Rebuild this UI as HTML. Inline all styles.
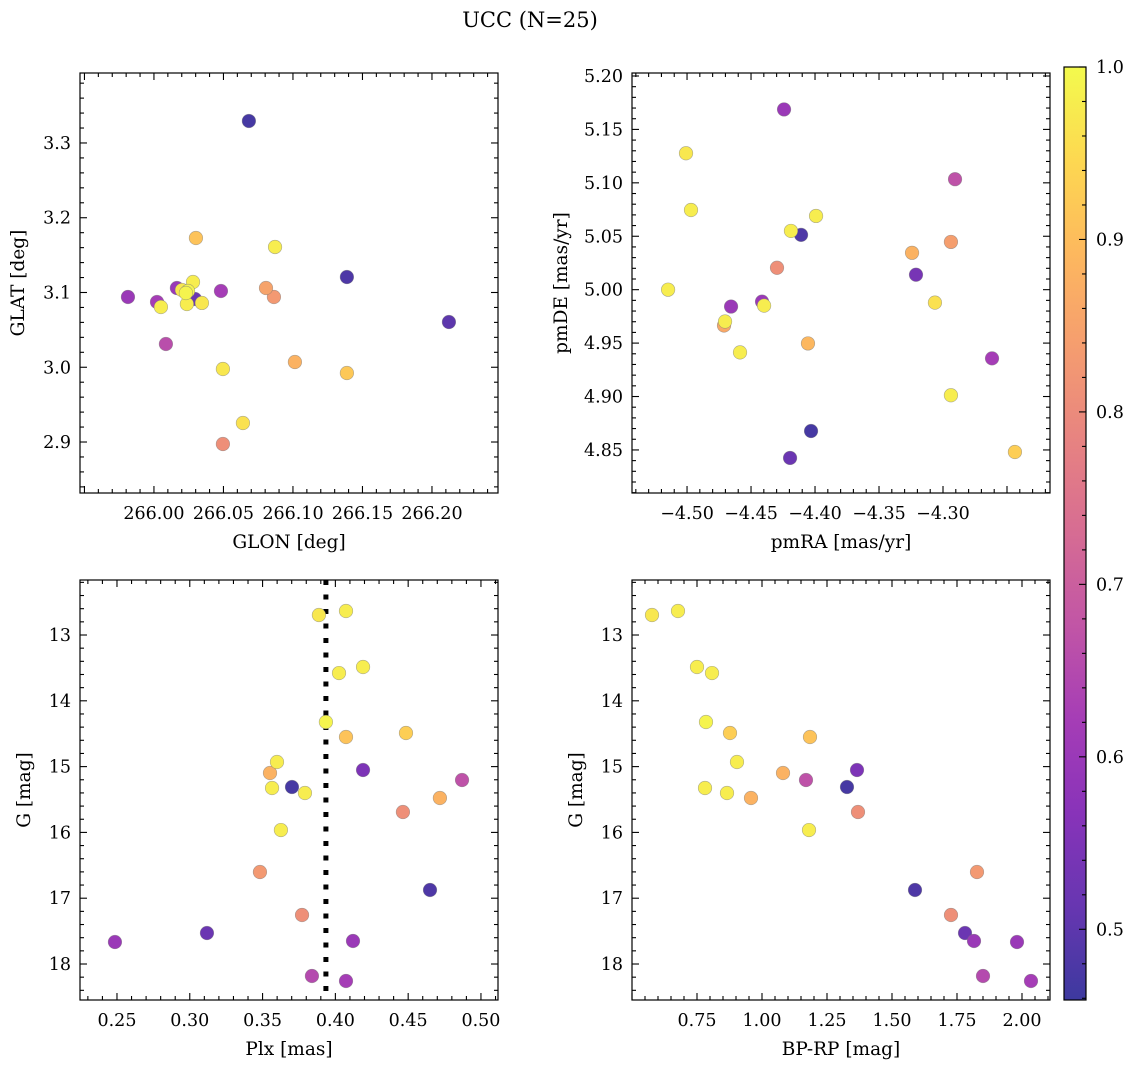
<!DOCTYPE html>
<html><head><meta charset="utf-8"><style>
html,body{margin:0;padding:0;background:#fff;}
svg{display:block;font-family:"DejaVu Serif","Liberation Serif",serif;}
</style></head><body>
<svg id="fig" width="1136" height="1067" viewBox="0 0 1136 1067" xmlns="http://www.w3.org/2000/svg">
<text x="530" y="27" font-size="21" text-anchor="middle">UCC (N=25)</text>
</svg>
<script>
// ---- data ----
const tlGlon=[266.0683,265.9813,266.0022,266.0050,266.0086,266.0165,266.0201,266.0245,266.0281,266.0295,266.0237,266.0345,266.0302,266.0482,266.0496,266.0496,266.0640,266.0871,266.0806,266.0863,266.1014,266.1388,266.1388,266.2122,266.0230];
const tlGlat=[3.3294,3.0940,3.0873,3.0806,3.0311,3.1060,3.1033,3.1020,3.1140,3.0913,3.0846,3.0860,3.1729,3.1020,2.9977,2.8973,2.9254,3.1609,3.1060,3.0940,3.0070,3.1207,2.9923,3.0605,3.0993];
const tlProb=[0.47,0.60,0.62,0.98,0.66,0.60,0.97,0.99,0.98,0.52,0.98,0.97,0.91,0.62,0.97,0.81,0.96,0.98,0.85,0.83,0.88,0.48,0.92,0.50,0.99];
const trPmra=[-4.4242,-4.5008,-4.4969,-4.5148,-4.4656,-4.4703,-4.4711,-4.4586,-4.4414,-4.4398,-4.4297,-4.4188,-4.4109,-4.3992,-4.4055,-4.4031,-4.4195,-4.3242,-4.3211,-4.3063,-4.2938,-4.2906,-4.2938,-4.2617,-4.2438];
const trPmde=[5.1687,5.1277,5.0746,5.0000,4.9842,4.9702,4.9665,4.9413,4.9888,4.9851,5.0205,5.0550,5.0513,5.0690,4.9497,4.8677,4.8425,5.0345,5.0140,4.9879,5.0447,5.1034,4.9012,4.9357,4.8481];
const trProb=[0.60,0.97,0.98,0.98,0.60,0.98,0.86,0.98,0.60,0.98,0.81,0.98,0.48,0.98,0.89,0.47,0.52,0.88,0.54,0.96,0.84,0.67,0.98,0.62,0.93];
const starG=[12.696,12.635,13.486,13.578,14.322,14.489,14.550,14.930,15.097,15.052,15.204,15.325,15.310,15.401,15.477,15.690,15.964,16.602,16.875,17.255,17.529,17.666,17.650,18.182,18.258];
const starPlx=[0.3887,0.4073,0.4190,0.4025,0.3935,0.4485,0.4073,0.3599,0.3551,0.4190,0.4870,0.3565,0.3702,0.3791,0.4718,0.4464,0.3626,0.3482,0.4650,0.3771,0.3118,0.2486,0.4121,0.3839,0.4073];
const starBprp=[0.5769,0.6769,0.7500,0.8077,0.7846,0.8769,1.1846,0.9038,1.0808,1.3654,1.1692,0.7808,1.3269,0.8654,0.9577,1.3692,1.1808,1.8269,1.5885,1.7269,1.7808,1.9808,1.8154,1.8500,2.0346];
const starProb=[0.97,0.98,0.98,0.98,0.99,0.93,0.91,0.98,0.88,0.55,0.67,0.98,0.47,0.98,0.88,0.81,0.98,0.83,0.48,0.81,0.52,0.60,0.60,0.65,0.62];
const plxMedian=0.3935;
const tlXTicks=[266.00,266.05,266.10,266.15,266.20];
const tlYTicks=[2.9,3.0,3.1,3.2,3.3];
const trXTicks=[-4.50,-4.45,-4.40,-4.35,-4.30];
const trYTicks=[4.85,4.90,4.95,5.00,5.05,5.10,5.15,5.20];
const blXTicks=[0.25,0.30,0.35,0.40,0.45,0.50];
const gTicks=[13,14,15,16,17,18];
const brXTicks=[0.75,1.00,1.25,1.50,1.75,2.00];
const cbTicks=[0.5,0.6,0.7,0.8,0.9,1.0];
const vmin=0.459, vmax=1.0;

const NS="http://www.w3.org/2000/svg";
const svg=document.getElementById('fig');
function mk(tag,attrs,parent){const e=document.createElementNS(NS,tag);for(const k in attrs)e.setAttribute(k,attrs[k]);(parent||svg).appendChild(e);return e;}
const stops=['#0d0887','#41049d','#6a00a8','#8f0da4','#b12a90','#cc4778','#e16462','#f2844b','#fca636','#fcce25','#f0f921'];
function hex(h){return [parseInt(h.substr(1,2),16),parseInt(h.substr(3,2),16),parseInt(h.substr(5,2),16)];}
function plasma(t){t=Math.max(0,Math.min(1,t));const f=t*10;const i=Math.min(9,Math.floor(f));const u=f-i;const a=hex(stops[i]),b=hex(stops[i+1]);
 const c=a.map((v,k)=>Math.round((v+(b[k]-v)*u)*0.8+255*0.2));return `rgb(${c[0]},${c[1]},${c[2]})`;}

const TFS=17.5, LFS=18.5;
function fmt(v,d){let s=v.toFixed(d);return s.replace('-','\u2212');}
function panel(o){
  const g=mk('g',{});
  
  
  const sx=v=>o.x0+(v-o.xmin)/(o.xmax-o.xmin)*(o.x1-o.x0);
  const sy=o.yinv?(v=>o.y0+(v-o.ymin)/(o.ymax-o.ymin)*(o.y1-o.y0)):(v=>o.y1-(v-o.ymin)/(o.ymax-o.ymin)*(o.y1-o.y0));
  if(o.vline!==undefined){const l=mk('line',{x1:sx(o.vline),x2:sx(o.vline),y1:o.y0,y2:o.y1,stroke:'#000','stroke-width':5,'stroke-dasharray':'5 9.5'},g);
    
    }
  const order=o.p.map((p,i)=>i).sort((a,b)=>o.p[a]-o.p[b]);
  order.forEach(i=>{const c=mk('circle',{cx:sx(o.xs[i]),cy:sy(o.ys[i]),r:6.8,fill:plasma((o.p[i]-vmin)/(vmax-vmin)),stroke:'rgba(120,120,120,0.6)','stroke-width':0.6},g);
    
    });
  const fr=mk('rect',{x:o.x0,y:o.y0,width:o.x1-o.x0,height:o.y1-o.y0,fill:'none',stroke:'#000','stroke-width':1.2},g);
  
  
  const xt=o.xt, yt=o.yt;
  const xstep=xt[1]-xt[0], ystep=yt[1]-yt[0];
  for(let v=xt[0]-2*xstep;v<=xt[xt.length-1]+2*xstep+1e-9;v+=xstep/5){const X=sx(v);if(X<o.x0-0.1||X>o.x1+0.1)continue;
    const major=Math.abs(Math.round((v-xt[0])/xstep)*xstep-(v-xt[0]))<1e-6;const L=major?7:4;
    mk('line',{x1:X,x2:X,y1:o.y1,y2:o.y1-L,stroke:'#000','stroke-width':1.1},g);mk('line',{x1:X,x2:X,y1:o.y0,y2:o.y0+L,stroke:'#000','stroke-width':1.1},g);}
  for(let v=yt[0]-2*ystep;v<=yt[yt.length-1]+2*ystep+1e-9;v+=ystep/5){const Y=sy(v);if(Y<o.y0-0.1||Y>o.y1+0.1)continue;
    const major=Math.abs(Math.round((v-yt[0])/ystep)*ystep-(v-yt[0]))<1e-6;const L=major?7:4;
    mk('line',{x1:o.x0,x2:o.x0+L,y1:Y,y2:Y,stroke:'#000','stroke-width':1.1},g);mk('line',{x1:o.x1,x2:o.x1-L,y1:Y,y2:Y,stroke:'#000','stroke-width':1.1},g);}
  xt.forEach(v=>{const t=mk('text',{x:sx(v),y:o.y1+26,'font-size':TFS,'text-anchor':'middle'},g);t.textContent=fmt(v,o.xd);
    
    });
  yt.forEach(v=>{const t=mk('text',{x:o.x0-9,y:sy(v)+6,'font-size':TFS,'text-anchor':'end'},g);t.textContent=fmt(v,o.yd);
    
    });
  const xl=mk('text',{x:(o.x0+o.x1)/2,y:o.y1+55,'font-size':LFS,'text-anchor':'middle'},g);xl.textContent=o.xlab;
  
  
  const yl=mk('text',{x:0,y:0,'font-size':LFS,'text-anchor':'middle',transform:`translate(${o.ylx},${(o.y0+o.y1)/2}) rotate(-90)`},g);yl.textContent=o.ylab;
  
  
}
panel({name:'glon-glat-panel',x0:80,x1:498,y0:73,y1:493,xmin:265.9468,xmax:266.2475,ymin:2.8318,ymax:3.3936,xs:tlGlon,ys:tlGlat,p:tlProb,xt:tlXTicks,yt:tlYTicks,xd:2,yd:1,xlab:'GLON [deg]',ylab:'GLAT [deg]',ylx:24});
panel({name:'pm-panel',x0:632,x1:1050,y0:73,y1:493,xmin:-4.543,xmax:-4.2164,ymin:4.8097,ymax:5.2028,xs:trPmra,ys:trPmde,p:trProb,xt:trXTicks,yt:trYTicks,xd:2,yd:2,xlab:'pmRA [mas/yr]',ylab:'pmDE [mas/yr]',ylx:567});
panel({name:'plx-g-panel',x0:80,x1:498,y0:580,y1:1000,xmin:0.2246,xmax:0.5117,ymin:12.164,ymax:18.547,yinv:true,xs:starPlx,ys:starG,p:starProb,xt:blXTicks,yt:gTicks,xd:2,yd:0,xlab:'Plx [mas]',ylab:'G [mag]',ylx:30,vline:plxMedian});
panel({name:'cmd-panel',x0:632,x1:1050,y0:580,y1:1000,xmin:0.5,xmax:2.1077,ymin:12.164,ymax:18.547,yinv:true,xs:starBprp,ys:starG,p:starProb,xt:brXTicks,yt:gTicks,xd:2,yd:0,xlab:'BP-RP [mag]',ylab:'G [mag]',ylx:582});

const cb=mk('g',{});


const defs=mk('defs',{},svg);
const lg=mk('linearGradient',{id:'cbg',x1:0,y1:1,x2:0,y2:0},defs);
for(let i=0;i<=20;i++){mk('stop',{offset:i/20,'stop-color':plasma(i/20)},lg);}
const cy0=67,cy1=1000,cx0=1064,cx1=1086;
mk('rect',{x:cx0,y:cy0,width:cx1-cx0,height:cy1-cy0,fill:'url(#cbg)',stroke:'#000','stroke-width':1.2},cb);
const cys=v=>cy1-(v-vmin)/(vmax-vmin)*(cy1-cy0);
for(let v=0.46;v<=1.0001;v+=0.02){const Y=cys(v);const major=Math.abs(v*10-Math.round(v*10))<1e-6;mk('line',{x1:cx1,x2:cx1-(major?7:4),y1:Y,y2:Y,stroke:'#000','stroke-width':1.1},cb);}
cbTicks.forEach(v=>{const t=mk('text',{x:cx1+10,y:cys(v)+6,'font-size':TFS},cb);t.textContent=v.toFixed(1);
  
  });
</script>
</body></html>
